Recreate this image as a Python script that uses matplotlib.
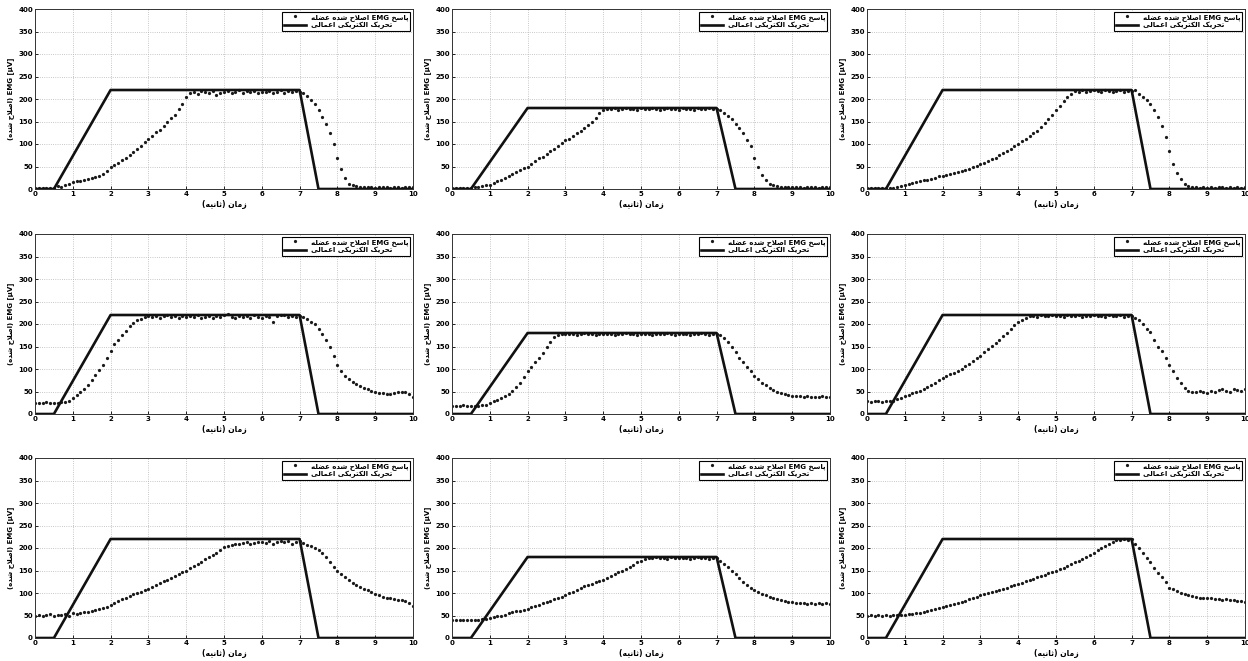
import matplotlib
matplotlib.use("Agg")
import matplotlib.pyplot as plt
import numpy as np
import re

# ---------------- data ----------------
time_s = [round(i * 0.1, 1) for i in range(101)]
stim_t = [0.0, 0.5, 2.0, 7.0, 7.5, 10.0]
stim_peaks = [220, 180, 220, 220, 180, 220, 220, 180, 220]

emg_1 = [3,2,3,3,2,3, 6,5,8,12,15,
         17,18,20,22,25,27,30,34,40,48,
         53,58,65,70,76,82,90,96,104,112,
         118,126,131,140,150,158,165,178,190,205,
         214,216,212,218,215,213,217,208,214,216,
         218,214,216,219,213,217,215,218,214,216,
         215,218,213,216,219,214,217,215,218,216,
         214,206,198,188,175,160,145,125,100,70,
         45,25,12,8,6,5,4,5,4,3,
         4,5,4,3,5,4,3,4,5,4]
emg_2 = [2,3,2,2,3,2, 4,5,6,8,10,
         13,17,21,25,30,34,38,42,46,50,
         55,62,68,72,78,84,90,96,102,108,
         112,118,124,130,136,142,150,158,168,176,
         178,177,179,176,178,180,177,178,176,179,
         178,177,179,178,176,178,180,177,178,176,
         179,177,178,176,179,178,177,180,178,177,
         175,170,162,155,145,135,125,110,95,70,
         50,32,20,12,8,6,5,4,5,4,
         4,5,3,4,5,4,3,4,5,4]
emg_3 = [2,2,3,2,3,2, 3,3,5,7,10,
         12,14,16,17,19,21,23,25,28,30,
         31,33,35,37,40,42,45,48,51,55,
         58,62,66,70,75,80,85,90,95,100,
         106,112,118,124,130,138,146,155,165,175,
         185,195,205,212,218,216,219,215,217,220,
         218,216,219,217,215,218,220,216,218,217,
         219,212,205,198,188,175,160,140,115,85,
         55,35,22,12,7,5,4,3,4,3,
         4,3,4,5,3,4,3,4,3,4]
emg_4 = [25,24,25,26,24,25, 25,26,27,30,35,
         42,48,56,64,75,86,98,110,125,140,
         155,165,175,185,195,203,208,212,215,217,
         216,218,214,217,219,215,217,213,218,216,
         217,215,219,214,216,218,213,217,215,219,
         222,216,214,218,215,217,213,219,216,214,
         218,215,205,217,219,220,216,218,215,217,
         215,212,205,200,190,178,165,150,130,110,
         95,85,78,72,66,62,58,55,52,50,
         47,46,44,45,47,48,50,48,45,38]
emg_5 = [18,17,18,19,18,17, 18,17,19,20,24,
         28,32,36,40,45,52,60,70,82,95,
         105,115,125,135,148,160,172,176,177,178,
         177,178,176,177,179,178,177,176,178,177,
         178,177,176,178,177,179,178,177,176,178,
         177,178,176,177,178,177,179,178,176,177,
         178,177,176,178,177,179,178,176,177,178,
         175,168,160,150,138,125,115,105,95,85,
         78,70,64,58,54,50,47,45,43,41,
         40,39,38,39,38,37,38,39,38,37]
emg_6 = [28,27,28,29,27,28, 28,30,33,36,40,
         43,46,49,52,55,60,65,70,75,80,
         84,88,92,96,100,106,112,118,124,130,
         137,144,151,158,165,173,181,189,197,205,
         210,214,217,218,216,219,217,218,220,217,
         218,216,219,217,218,220,216,218,217,219,
         217,218,216,219,218,217,220,216,218,217,
         214,210,200,190,182,165,150,140,125,110,
         95,80,68,58,52,50,48,52,50,47,
         52,50,54,55,52,50,55,53,52,55]
emg_7 = [50,52,49,51,53,50, 52,51,54,50,55,
         54,56,57,58,60,62,64,67,70,74,
         78,82,86,90,94,97,100,103,106,110,
         114,118,122,126,130,134,138,142,146,150,
         155,160,165,170,175,180,185,190,196,202,
         205,207,210,208,211,213,210,212,214,213,
         212,215,210,214,216,213,215,208,214,215,
         212,206,205,200,196,190,180,168,158,150,
         142,135,128,122,118,114,110,106,102,98,
         95,92,90,88,86,85,84,82,78,72]
emg_8 = [40,41,40,39,41,40, 40,41,42,43,45,
         46,48,50,52,55,57,59,61,63,65,
         68,71,74,77,80,83,86,89,92,95,
         99,103,107,111,115,118,121,124,127,130,
         134,138,142,146,150,154,158,163,168,172,
         175,177,178,179,177,178,176,179,178,177,
         178,177,176,178,179,177,178,176,177,178,
         172,165,158,150,142,134,125,118,112,106,
         102,98,95,92,89,86,84,82,80,79,
         78,77,78,76,77,76,78,75,77,76]
emg_9 = [50,51,50,52,50,51, 50,51,52,51,52,
         53,54,55,56,58,60,62,64,66,68,
         71,74,76,78,80,83,86,89,92,95,
         98,100,102,104,107,110,112,115,118,120,
         123,126,129,132,135,138,141,144,147,150,
         153,156,160,164,168,172,176,180,185,190,
         195,200,205,210,214,217,218,219,218,219,
         210,200,190,178,168,155,145,135,125,112,
         108,104,100,97,95,93,91,90,89,88,
         88,87,86,85,86,85,84,83,82,80]
emg_series = [emg_1, emg_2, emg_3, emg_4, emg_5, emg_6, emg_7, emg_8, emg_9]

x_ticks = list(range(0, 11))
y_ticks = list(range(0, 401, 50))

legend_emg = "پاسخ EMG اصلاح شده عضله"
legend_stim = "تحریک الکتریکی اعمالی"
xlabel_text = "زمان (ثانیه)"
ylabel_fa = "(اصلاح شده)"

# ---------------- simple Persian shaping (matplotlib has no RTL shaping) ----------------
FORMS = {  # isolated, final, initial, medial
    'ا': ('\uFE8D', '\uFE8E', None, None),
    'پ': ('\uFB56', '\uFB57', '\uFB58', '\uFB59'),
    'ت': ('\uFE95', '\uFE96', '\uFE97', '\uFE98'),
    'ث': ('\uFE99', '\uFE9A', '\uFE9B', '\uFE9C'),
    'ح': ('\uFEA1', '\uFEA2', '\uFEA3', '\uFEA4'),
    'خ': ('\uFEA5', '\uFEA6', '\uFEA7', '\uFEA8'),
    'د': ('\uFEA9', '\uFEAA', None, None),
    'ر': ('\uFEAD', '\uFEAE', None, None),
    'ز': ('\uFEAF', '\uFEB0', None, None),
    'س': ('\uFEB1', '\uFEB2', '\uFEB3', '\uFEB4'),
    'ش': ('\uFEB5', '\uFEB6', '\uFEB7', '\uFEB8'),
    'ص': ('\uFEB9', '\uFEBA', '\uFEBB', '\uFEBC'),
    'ض': ('\uFEBD', '\uFEBE', '\uFEBF', '\uFEC0'),
    'ع': ('\uFEC9', '\uFECA', '\uFECB', '\uFECC'),
    'ک': ('\uFB8E', '\uFB8F', '\uFB90', '\uFB91'),
    'ل': ('\uFEDD', '\uFEDE', '\uFEDF', '\uFEE0'),
    'م': ('\uFEE1', '\uFEE2', '\uFEE3', '\uFEE4'),
    'ن': ('\uFEE5', '\uFEE6', '\uFEE7', '\uFEE8'),
    'ه': ('\uFEE9', '\uFEEA', '\uFEEB', '\uFEEC'),
    'ی': ('\uFBFC', '\uFBFD', '\uFBFE', '\uFBFF'),
}


def dual(c):
    return c in FORMS and FORMS[c][2] is not None


def shape(s):
    out = []
    i = 0
    n = len(s)
    while i < n:
        c = s[i]
        prev = s[i - 1] if i > 0 else ''
        if c not in FORMS:
            out.append(c)
            i += 1
            continue
        jp = dual(prev)
        if c == 'ل' and i + 1 < n and s[i + 1] == 'ا':
            out.append('\uFEFC' if jp else '\uFEFB')
            i += 2
            continue
        nxt = s[i + 1] if i + 1 < n else ''
        jn = dual(c) and nxt in FORMS
        f = FORMS[c]
        if jp and jn:
            out.append(f[3])
        elif jp:
            out.append(f[1])
        elif jn:
            out.append(f[2])
        else:
            out.append(f[0])
        i += 1
    return ''.join(out)


def fa(s):
    mirror = {'(': ')', ')': '(', '[': ']', ']': '['}
    return ''.join(mirror.get(c, c) for c in reversed(shape(s)))


def fa_mixed(s):
    parts = re.split(r'([A-Za-z]+)', s)
    vis = []
    for p in parts:
        if re.fullmatch(r'[A-Za-z]+', p or ''):
            vis.append(p)
        else:
            vis.append(fa(p))
    return ''.join(reversed(vis))


# ---------------- figure ----------------
plt.rcParams['font.family'] = ['DejaVu Sans']
fig = plt.figure(figsize=(12.48, 6.61), dpi=100)

lefts = [35 / 1248, 452 / 1248, 867 / 1248]
bottoms = [1 - 189 / 661, 1 - 414 / 661, 1 - 638 / 661]
w = 378 / 1248
h = 180 / 661

lbl_emg = fa_mixed(legend_emg)
lbl_stim = fa(legend_stim)
xl = fa(xlabel_text)
yl = fa(ylabel_fa) + " EMG [µV]"

for k in range(9):
    r, c = divmod(k, 3)
    ax = fig.add_axes([lefts[c], bottoms[r], w, h])
    peak = stim_peaks[k]
    stim_v = [0, 0, peak, peak, 0, 0]
    ax.plot(time_s, emg_series[k], linestyle='none', marker='o', ms=1.3,
            color='#1a1a1a', label=lbl_emg)
    ax.plot(stim_t, stim_v, color='#111111', lw=1.9, label=lbl_stim)
    ax.set_xlim(0, 10)
    ax.set_ylim(0, 400)
    ax.set_xticks(x_ticks)
    ax.set_yticks(y_ticks)
    ax.tick_params(direction='in', length=2, width=0.6, labelsize=5, pad=1.5,
                   colors='black')
    for t in ax.get_xticklabels() + ax.get_yticklabels():
        t.set_fontweight('bold')
    ax.grid(True, linestyle=':', color='#b5b5b5', lw=0.6)
    for s in ax.spines.values():
        s.set_linewidth(0.7)
        s.set_color('#333333')
    ax.set_xlabel(xl, fontsize=5.5, fontweight='bold', labelpad=2)
    ax.set_ylabel(yl, fontsize=5, fontweight='bold', labelpad=3)
    leg = ax.legend(loc='upper right', fontsize=5, frameon=True, fancybox=False,
                    edgecolor='black', borderaxespad=0.4, handlelength=3.2,
                    borderpad=0.3, labelspacing=0.15, handletextpad=0.6,
                    framealpha=1.0)
    leg.get_frame().set_linewidth(0.8)
    for t in leg.get_texts():
        t.set_fontweight('bold')

fig.savefig('out.png', dpi=100)
